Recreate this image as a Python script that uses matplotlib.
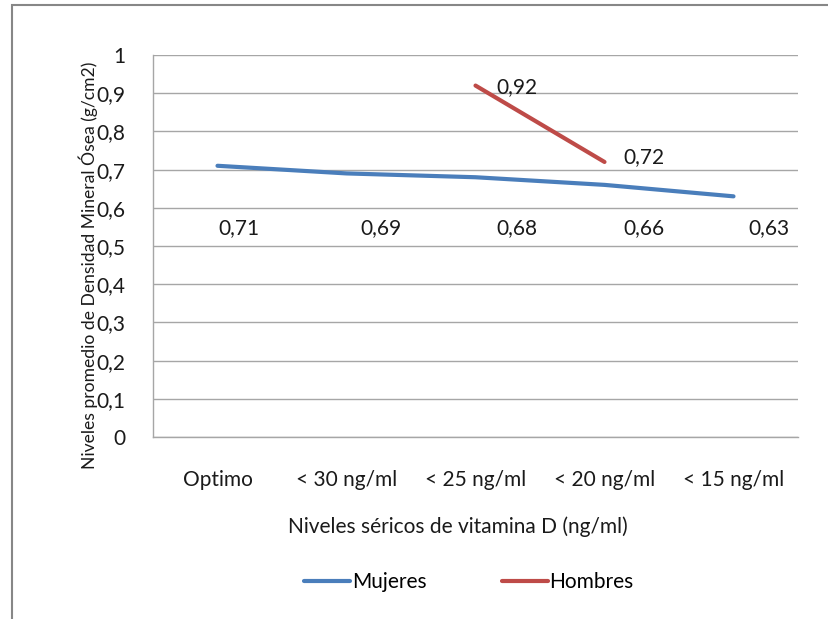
import numpy as np
import matplotlib
matplotlib.use("Agg")
import matplotlib.pyplot as plt
from matplotlib.patches import Rectangle

plt.rcParams['font.family'] = ['Lato', 'DejaVu Sans']

categories = ["Optimo", "< 30 ng/ml", "< 25 ng/ml", "< 20 ng/ml", "< 15 ng/ml"]
mujeres = [0.71, 0.69, 0.68, 0.66, 0.63]
hombres = [np.nan, np.nan, 0.92, 0.72, np.nan]
yticks = [0, 0.1, 0.2, 0.3, 0.4, 0.5, 0.6, 0.7, 0.8, 0.9, 1.0]

W, H = 829, 619
FS = 15
fig = plt.figure(figsize=(W / 100, H / 100), dpi=100)
ax = fig.add_axes([153 / W, 1 - 437 / H, (798 - 153) / W, (437 - 55) / H])

x = np.arange(len(categories))
blue = "#4A7EBB"
red = "#BE4B48"
ax.plot(x, mujeres, color=blue, lw=3, solid_capstyle='round', label="Mujeres", zorder=3)
ax.plot(x, hombres, color=red, lw=3, solid_capstyle='round', label="Hombres", zorder=3)

ax.set_xlim(-0.5, len(categories) - 0.5)
ax.set_ylim(0, 1)
ax.set_yticks(yticks)
ax.set_yticklabels([("%g" % v).replace(".", ",") for v in yticks])
ax.set_xticks(x)
ax.set_xticklabels(categories)
ax.tick_params(axis='both', length=0, labelsize=FS, colors="#1a1a1a")
ax.tick_params(axis='y', pad=20)
ax.tick_params(axis='x', pad=24)
ax.grid(axis='y', color="#a6a6a6", lw=1)
ax.set_axisbelow(True)
for s in ["top", "right"]:
    ax.spines[s].set_visible(False)
for s in ["left", "bottom"]:
    ax.spines[s].set_color("#a6a6a6")
    ax.spines[s].set_linewidth(1)

def fmt(v):
    return ("%.2f" % v).replace(".", ",")

# value labels for Mujeres, set lower in the plot
m_offsets = [1, 14, 21, 19, 15]
for xi, v, off in zip(x, mujeres, m_offsets):
    ax.annotate(fmt(v), xy=(xi, 0.547), xytext=(off, 0), textcoords="offset pixels",
                ha="left", va="center", fontsize=FS, color="#1a1a1a")

# value labels for Hombres
h_offsets = {2: (21, 0.915), 3: (19, 0.733)}
for i, v in enumerate(hombres):
    if not np.isnan(v):
        off, yy = h_offsets[i]
        ax.annotate(fmt(v), xy=(x[i], yy), xytext=(off, 0), textcoords="offset pixels",
                    ha="left", va="center", fontsize=FS, color="#1a1a1a")

fig.text(88 / W, 1 - 265 / H, "Niveles promedio de Densidad Mineral Ósea (g/cm2)",
         rotation=90, ha="center", va="center", fontsize=12.6, color="#1a1a1a")
fig.text(458 / W, 1 - 527 / H, "Niveles séricos de vitamina D (ng/ml)",
         ha="center", va="center", fontsize=FS, color="#1a1a1a")

leg = fig.legend(loc="center", bbox_to_anchor=(469 / W, 1 - 582 / H), ncol=2, frameon=False,
                 fontsize=FS, handlelength=2.2, handletextpad=0.1, columnspacing=3.6)

# outer chart frame
fig.patches.append(Rectangle((12 / W, -0.05), 1.2, 1 - 5 / H + 0.05, transform=fig.transFigure,
                             fill=False, edgecolor="#878787", lw=1.5))

fig.savefig("out.png", dpi=100)
